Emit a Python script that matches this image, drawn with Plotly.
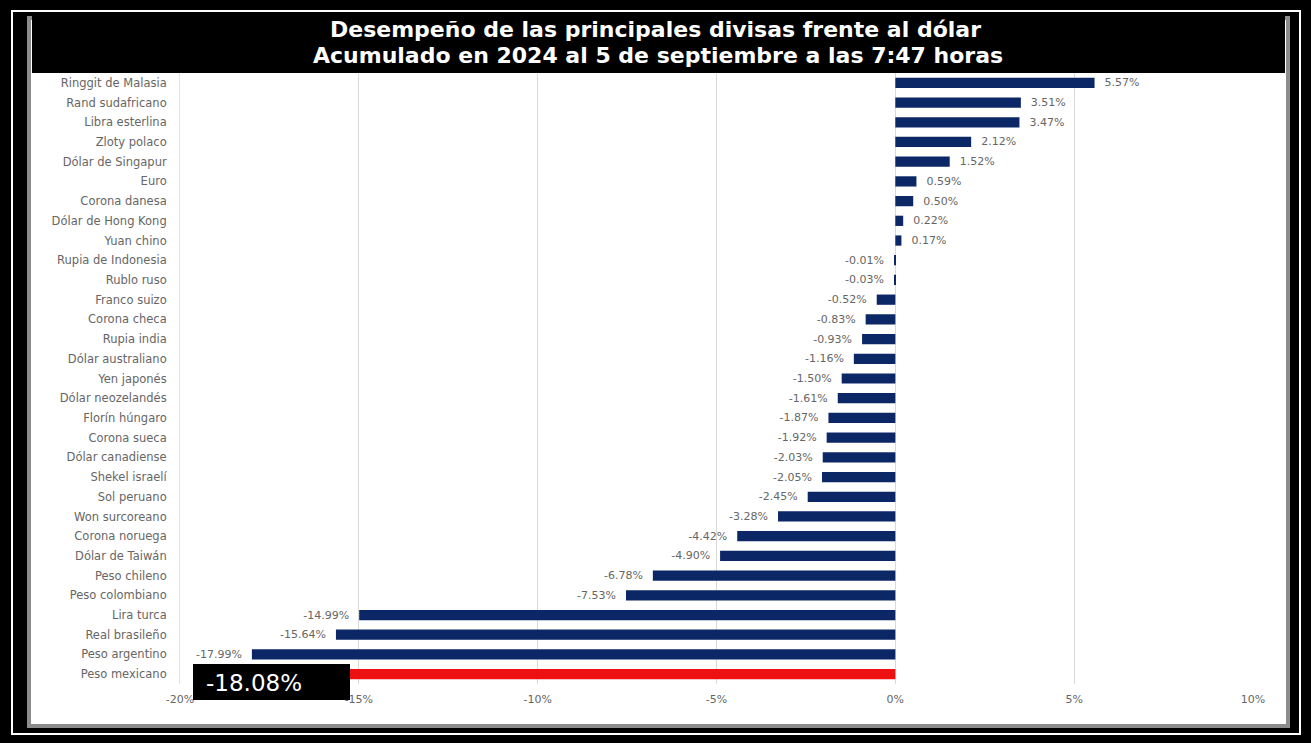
import plotly.graph_objects as go

# currencies, top to bottom as drawn
monedas = [
    "Ringgit de Malasia", "Rand sudafricano", "Libra esterlina", "Zloty polaco",
    "Dólar de Singapur", "Euro", "Corona danesa", "Dólar de Hong Kong",
    "Yuan chino", "Rupia de Indonesia", "Rublo ruso", "Franco suizo",
    "Corona checa", "Rupia india", "Dólar australiano", "Yen japonés",
    "Dólar neozelandés", "Florín húngaro", "Corona sueca", "Dólar canadiense",
    "Shekel israelí", "Sol peruano", "Won surcoreano", "Corona noruega",
    "Dólar de Taiwán", "Peso chileno", "Peso colombiano", "Lira turca",
    "Real brasileño", "Peso argentino", "Peso mexicano",
]
variacion = [
    5.57, 3.51, 3.47, 2.12, 1.52, 0.59, 0.50, 0.22, 0.17, -0.01, -0.03,
    -0.52, -0.83, -0.93, -1.16, -1.50, -1.61, -1.87, -1.92, -2.03, -2.05,
    -2.45, -3.28, -4.42, -4.90, -6.78, -7.53, -14.99, -15.64, -17.99, -18.08,
]
destacada = "Peso mexicano"
x_ticks = [-20, -15, -10, -5, 0, 5, 10]
x_labels = ["-20%", "-15%", "-10%", "-5%", "0%", "5%", "10%"]

W, H = 1311, 743
ML, MR, MT, MB = 180, 58, 73, 59
PW, PH = W - ML - MR, H - MT - MB
FUENTE = "DejaVu Sans"
GRIS = "#666666"
NB = "\u00a0\u00a0"  # a little extra gap between bar end and its label

colores = ["#ee1111" if m == destacada else "#0c2766" for m in monedas]
etiquetas = []
for m, v in zip(monedas, variacion):
    if m == destacada:
        etiquetas.append("")
    elif v >= 0:
        etiquetas.append(f"{NB}{v:.2f}%")
    else:
        etiquetas.append(f"{v:.2f}%{NB}")
valor_mx = variacion[monedas.index(destacada)]


def px_x(px):
    return (px - ML) / PW


def px_y(py):
    return 1 - (py - MT) / PH


fig = go.Figure()
fig.add_trace(go.Bar(
    x=variacion, y=monedas, orientation="h",
    marker=dict(color=colores, line=dict(width=0)),
    text=etiquetas, textposition="outside", cliponaxis=False,
    constraintext="none",
    textfont=dict(family=FUENTE, size=11, color=GRIS),
    hoverinfo="skip",
))

shapes = [
    # outer thin white frame
    dict(type="rect", xref="paper", yref="paper", layer="below",
         x0=px_x(12), x1=px_x(1300), y0=px_y(11), y1=px_y(734),
         line=dict(color="white", width=2)),
    # white panel with grey edge
    dict(type="rect", xref="paper", yref="paper", layer="below",
         x0=px_x(29), x1=px_x(1288), y0=px_y(18), y1=px_y(726),
         fillcolor="white", line=dict(color="#8c8c8c", width=4)),
    # title band
    dict(type="rect", xref="paper", yref="paper", layer="below",
         x0=px_x(32), x1=px_x(1285), y0=px_y(12), y1=px_y(73),
         fillcolor="black", line=dict(width=0)),
    # black box for the highlighted value
    dict(type="rect", xref="paper", yref="paper", layer="above",
         x0=px_x(193), x1=px_x(350), y0=px_y(664), y1=px_y(700),
         fillcolor="black", line=dict(width=0)),
]

fig.update_layout(
    width=W, height=H,
    margin=dict(l=ML, r=MR, t=MT, b=MB),
    paper_bgcolor="black", plot_bgcolor="white",
    showlegend=False, bargap=0.48,
    shapes=shapes,
    font=dict(family=FUENTE, size=11, color=GRIS),
    annotations=[
        dict(text="<b>Desempeño de las principales divisas frente al dólar</b>",
             xref="paper", yref="paper", x=px_x(655), y=px_y(30),
             xanchor="center", yanchor="middle", showarrow=False,
             font=dict(family=FUENTE, size=22, color="white")),
        dict(text="<b>Acumulado en 2024 al 5 de septiembre a las 7:47 horas</b>",
             xref="paper", yref="paper", x=px_x(658), y=px_y(56),
             xanchor="center", yanchor="middle", showarrow=False,
             font=dict(family=FUENTE, size=22, color="white")),
        dict(text=f"{valor_mx:.2f}%",
             xref="paper", yref="paper", x=px_x(204), y=px_y(683),
             xanchor="left", yanchor="middle", showarrow=False,
             font=dict(family=FUENTE, size=23, color="white")),
    ],
)
fig.update_xaxes(
    range=[-20, 10], tickvals=x_ticks, ticktext=x_labels,
    showgrid=True, gridcolor="#d9d9d9", gridwidth=1,
    zeroline=True, zerolinecolor="#d9d9d9", zerolinewidth=1,
    ticks="outside", ticklen=5, tickcolor="rgba(0,0,0,0)",
    showline=False, tickfont=dict(family=FUENTE, size=11, color=GRIS),
)
fig.update_yaxes(
    categoryorder="array", categoryarray=monedas[::-1],
    range=[-0.5, len(monedas) - 0.5],
    showgrid=False, showline=True, linecolor="#e3e3e3",
    ticklabelstandoff=10, tickfont=dict(family=FUENTE, size=11.5, color=GRIS),
)

fig.write_html("out.html", config={"displayModeBar": False},
               post_script="document.body.style.margin='0';")
